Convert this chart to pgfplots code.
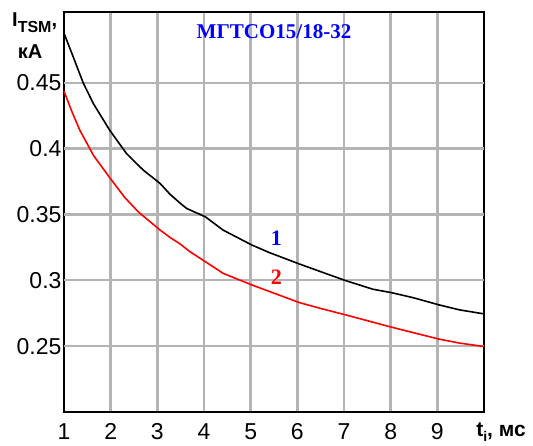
\documentclass[border=0pt]{standalone}
\usepackage{pgfplots}
\pgfplotsset{compat=1.18}
\usepackage{fontspec}
\setmainfont{Liberation Sans}
\newfontfamily\seriffont{Liberation Serif}
\definecolor{gridgray}{RGB}{180,180,180}

\begin{document}
\begin{tikzpicture}
\begin{axis}[
    at={(0,0)}, anchor=south west,
    scale only axis,
    width=420pt, height=400pt,
    xmin=1, xmax=10,
    ymin=0.2, ymax=0.5037,
    xtick={1,2,3,4,5,6,7,8,9},
    ytick={0.25,0.3,0.35,0.4,0.45},
    yticklabels={0.25,0.3,0.35,0.4,0.45},
    grid=major,
    major grid style={line width=2.4pt, gridgray},
    axis line style={line width=2pt},
    major tick length=0pt,
    ticklabel style={font=\fontsize{23}{23}\selectfont},
    xticklabel style={yshift=-8pt},
    yticklabel style={xshift=1pt},
    /pgf/number format/assume math mode=true,
    clip=false,
]

% horizontal grid lines, drawn again by hand
\draw[line width=2.4pt, gridgray] (axis cs:1,0.25) -- (axis cs:10,0.25);
\draw[line width=2.4pt, gridgray] (axis cs:1,0.30) -- (axis cs:10,0.30);
\draw[line width=2.4pt, gridgray] (axis cs:1,0.35) -- (axis cs:10,0.35);
\draw[line width=2.4pt, gridgray] (axis cs:1,0.40) -- (axis cs:10,0.40);
\draw[line width=2.4pt, gridgray] (axis cs:1,0.45) -- (axis cs:10,0.45);

% curve 1
\addplot[black, line width=1.6pt] coordinates {
    (1,0.4876) (1.2,0.4694) (1.41,0.45) (1.63,0.4341) (1.98,0.4139)
    (2.34,0.3962) (2.70,0.3836) (3.06,0.3735) (3.27,0.3654) (3.48,0.3588)
    (3.63,0.3545) (4.03,0.3482) (4.41,0.3381) (5.03,0.3267) (5.41,0.3209)
    (6.05,0.3123) (6.70,0.3040) (7.04,0.2997) (7.62,0.2932) (8.02,0.2906)
    (8.48,0.2868) (9.04,0.2813) (9.48,0.2775) (10,0.2745)
};

% curve 2
\addplot[red, line width=1.6pt] coordinates {
    (1,0.4436) (1.17,0.4280) (1.34,0.4139) (1.63,0.3949) (2.02,0.3760)
    (2.30,0.3630) (2.59,0.3520) (3.05,0.3384) (3.27,0.3326) (3.48,0.3278)
    (3.70,0.3217) (4.03,0.3141) (4.41,0.3053) (5.03,0.2964) (5.41,0.2914)
    (6.05,0.2830) (6.48,0.2788) (7.04,0.2737) (8.02,0.2644) (9.04,0.2553)
    (9.48,0.2523) (10,0.2497)
};

\node[text=blue, font=\seriffont\bfseries\fontsize{21}{21}\selectfont]
    at (axis cs:5.5,0.4889) {МГТСО15/18-32};
\node[text=blue, font=\seriffont\bfseries\fontsize{22}{22}\selectfont]
    at (axis cs:5.55,0.332) {1};
\node[text=red, font=\seriffont\bfseries\fontsize{22}{22}\selectfont]
    at (axis cs:5.55,0.3027) {2};
\end{axis}

\node[font=\bfseries\fontsize{20}{20}\selectfont, anchor=base west, inner sep=0pt]
    at (-52pt,385pt) {I\raisebox{-6pt}{\fontsize{16}{16}\selectfont TSM},};
\node[font=\bfseries\fontsize{20}{20}\selectfont] at (-34pt,360pt) {кА};
\node[font=\bfseries\fontsize{21}{21}\selectfont] at (437pt,-20pt)
    {t\raisebox{-5pt}{\fontsize{14}{14}\selectfont i}, мс};

\pgfresetboundingbox
\path (-64pt,-33pt) rectangle (469pt,412pt);
\end{tikzpicture}
\end{document}
